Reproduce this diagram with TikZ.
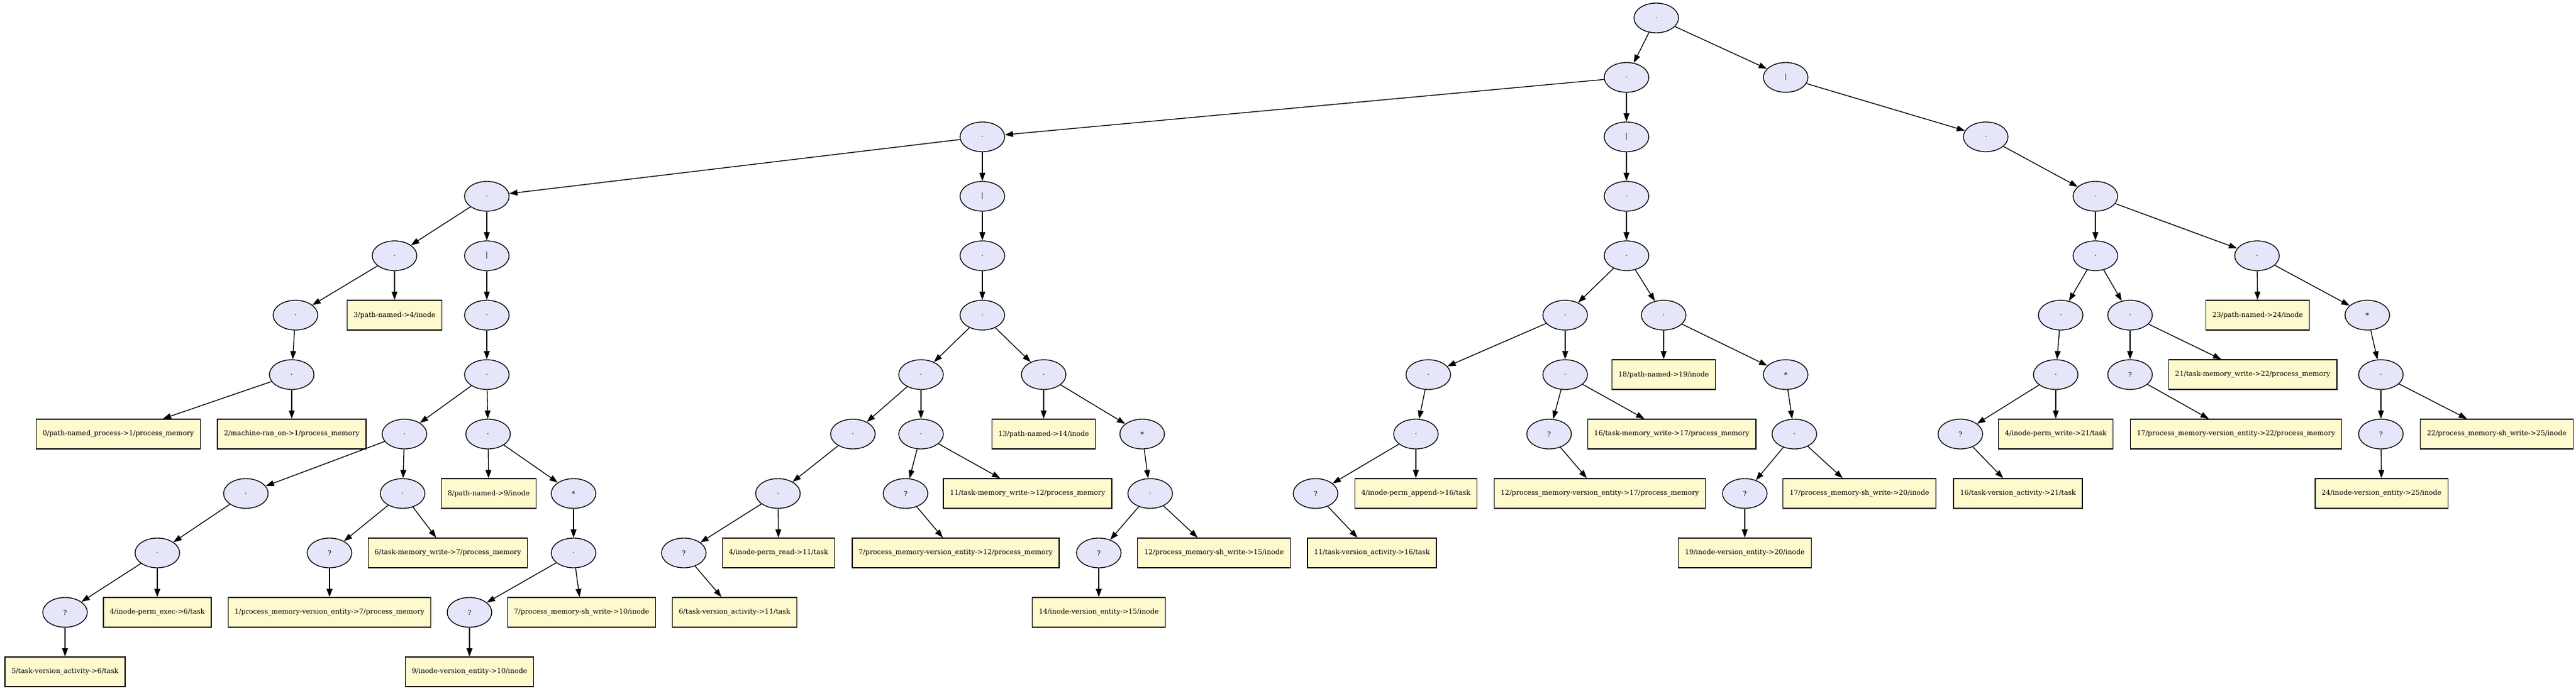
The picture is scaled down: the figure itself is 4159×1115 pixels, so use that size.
\documentclass[tikz,border=0pt]{standalone}
\usepackage{fontspec}
\setmainfont{DejaVu Serif}
\usetikzlibrary{arrows.meta,shapes.geometric}
\definecolor{lav}{HTML}{E6E6FA}
\definecolor{lem}{HTML}{FFFACD}
\begin{document}
\begin{tikzpicture}[x=0.75pt,y=-0.75pt,
  ell/.style={ellipse,draw=black,line width=1pt,fill=lav,minimum width=54pt,minimum height=36pt,inner sep=0pt,font=\fontsize{8.3}{10}\selectfont},
  bx/.style={rectangle,draw=black,line width=1pt,fill=lem,minimum height=36pt,inner xsep=7.92pt,inner ysep=0pt,font=\fontsize{8.3}{10}\selectfont},
  arr/.style={-{Triangle[length=10pt,width=7pt]},line width=1pt,black}]
\useasboundingbox (0,0) rectangle (4159,1115);
% top
\node[ell] (r) at (2674,29) {.};
\node[ell] (a) at (2626,125) {.};
\node[ell] (b) at (2883,125) {|};
\node[ell] (a1) at (1586,221) {.};
\node[ell] (a2) at (2626,221) {|};
\node[ell] (b1) at (3206,221) {.};
% left subtree
\node[ell] (c) at (786,317) {.};
\node[ell] (d) at (1586,317) {|};
\node[ell] (c1) at (637,413) {.};
\node[ell] (c2) at (786,413) {|};
\node[ell] (c11) at (477,509) {.};
\node[bx] (box3) at (637,509) {3/path-named->4/inode};
\node[ell] (c111) at (471,605) {.};
\node[bx] (box0) at (191,701) {0/path-named\_process->1/process\_memory};
\node[bx] (box2) at (471,701) {2/machine-ran\_on->1/process\_memory};
\node[ell] (c21) at (786,509) {.};
\node[ell] (c211) at (786,605) {.};
\node[ell] (e1) at (653,701) {.};
\node[ell] (e2) at (788,701) {.};
\node[ell] (e11) at (397,797) {.};
\node[ell] (e12) at (650,797) {.};
\node[ell] (e111) at (254,893) {.};
\node[ell] (q1) at (105,989) {?};
\node[bx] (box5) at (105,1085) {5/task-version\_activity->6/task};
\node[bx] (box4) at (254,989) {4/inode-perm\_exec->6/task};
\node[ell] (q2) at (532,893) {?};
\node[bx] (box1) at (532,989) {1/process\_memory-version\_entity->7/process\_memory};
\node[bx] (box6) at (723,893) {6/task-memory\_write->7/process\_memory};
\node[bx] (box8) at (789,797) {8/path-named->9/inode};
\node[ell] (s1) at (926,797) {*};
\node[ell] (s11) at (926,893) {.};
\node[ell] (q3) at (758,989) {?};
\node[bx] (box9) at (758,1085) {9/inode-version\_entity->10/inode};
\node[bx] (box7sh) at (939,989) {7/process\_memory-sh\_write->10/inode};
% under d
\node[ell] (d1) at (1586,413) {.};
\node[ell] (d2) at (1586,509) {.};
\node[ell] (f1) at (1487,605) {.};
\node[ell] (f2) at (1685,605) {.};
\node[ell] (f11) at (1377,701) {.};
\node[ell] (f12) at (1487,701) {.};
\node[ell] (f111) at (1256,797) {.};
\node[ell] (q4) at (1104,893) {?};
\node[bx] (box6tv) at (1186,989) {6/task-version\_activity->11/task};
\node[bx] (box4pr) at (1257,893) {4/inode-perm\_read->11/task};
\node[ell] (q5) at (1462,797) {?};
\node[bx] (box7ve) at (1543,893) {7/process\_memory-version\_entity->12/process\_memory};
\node[bx] (box11) at (1659,797) {11/task-memory\_write->12/process\_memory};
\node[bx] (box13) at (1685,701) {13/path-named->14/inode};
\node[ell] (s2) at (1844,701) {*};
\node[ell] (s21) at (1857,797) {.};
\node[ell] (q6) at (1774,893) {?};
\node[bx] (box14) at (1774,989) {14/inode-version\_entity->15/inode};
\node[bx] (box12sh) at (1960,893) {12/process\_memory-sh\_write->15/inode};
% under a2
\node[ell] (g1) at (2626,317) {.};
\node[ell] (g2) at (2626,413) {.};
\node[ell] (h1) at (2527,509) {.};
\node[ell] (h2) at (2686,509) {.};
\node[ell] (h11) at (2306,605) {.};
\node[ell] (h12) at (2527,605) {.};
\node[ell] (h111) at (2286,701) {.};
\node[ell] (q7) at (2124,797) {?};
\node[bx] (box11tv) at (2215,893) {11/task-version\_activity->16/task};
\node[bx] (box4pa) at (2286,797) {4/inode-perm\_append->16/task};
\node[ell] (q8) at (2501,701) {?};
\node[bx] (box12ve) at (2583,797) {12/process\_memory-version\_entity->17/process\_memory};
\node[bx] (box16mw) at (2699,701) {16/task-memory\_write->17/process\_memory};
\node[bx] (box18) at (2686,605) {18/path-named->19/inode};
\node[ell] (s3) at (2883,605) {*};
\node[ell] (s31) at (2897,701) {.};
\node[ell] (q9) at (2817,797) {?};
\node[bx] (box19) at (2817,893) {19/inode-version\_entity->20/inode};
\node[bx] (box17sh) at (3002,797) {17/process\_memory-sh\_write->20/inode};
% under b1
\node[ell] (k) at (3383,317) {.};
\node[ell] (k1) at (3383,413) {.};
\node[ell] (k2) at (3644,413) {.};
\node[ell] (m1) at (3327,509) {.};
\node[ell] (m2) at (3439,509) {.};
\node[ell] (m11) at (3319,605) {.};
\node[ell] (q10) at (3165,701) {?};
\node[bx] (box16tv) at (3258,797) {16/task-version\_activity->21/task};
\node[bx] (box4pw) at (3319,701) {4/inode-perm\_write->21/task};
\node[ell] (q11) at (3439,605) {?};
\node[bx] (box17ve) at (3610,701) {17/process\_memory-version\_entity->22/process\_memory};
\node[bx] (box21) at (3637,605) {21/task-memory\_write->22/process\_memory};
\node[bx] (box23) at (3645,509) {23/path-named->24/inode};
\node[ell] (s4) at (3822,509) {*};
\node[ell] (s41) at (3844,605) {.};
\node[ell] (q12) at (3844,701) {?};
\node[bx] (box24) at (3845,797) {24/inode-version\_entity->25/inode};
\node[bx] (box22sh) at (4031,701) {22/process\_memory-sh\_write->25/inode};
% edges
\foreach \p/\c in {r/a,r/b,a/a1,a/a2,b/b1,
  a1/c,a1/d,c/c1,c/c2,c1/c11,c1/box3,c11/c111,c111/box0,c111/box2,
  c2/c21,c21/c211,c211/e1,c211/e2,e1/e11,e1/e12,e11/e111,e111/q1,q1/box5,e111/box4,
  e12/q2,q2/box1,e12/box6,e2/box8,e2/s1,s1/s11,s11/q3,q3/box9,s11/box7sh,
  d/d1,d1/d2,d2/f1,d2/f2,f1/f11,f1/f12,f11/f111,f111/q4,q4/box6tv,f111/box4pr,
  f12/q5,q5/box7ve,f12/box11,f2/box13,f2/s2,s2/s21,s21/q6,q6/box14,s21/box12sh,
  a2/g1,g1/g2,g2/h1,g2/h2,h1/h11,h1/h12,h11/h111,h111/q7,q7/box11tv,h111/box4pa,
  h12/q8,q8/box12ve,h12/box16mw,h2/box18,h2/s3,s3/s31,s31/q9,q9/box19,s31/box17sh,
  b1/k,k/k1,k/k2,k1/m1,k1/m2,m1/m11,m11/q10,q10/box16tv,m11/box4pw,
  m2/q11,q11/box17ve,m2/box21,k2/box23,k2/s4,s4/s41,s41/q12,q12/box24,s41/box22sh}
  \draw[arr] (\p) -- (\c);
\end{tikzpicture}
\end{document}
